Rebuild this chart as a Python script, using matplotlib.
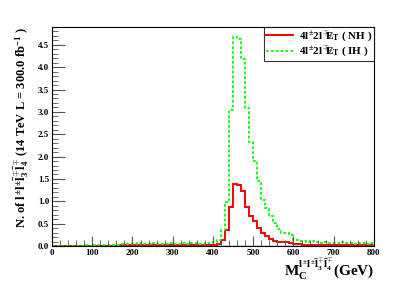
import numpy as np
import matplotlib
matplotlib.use("Agg")
import matplotlib.pyplot as plt
from matplotlib.ticker import MultipleLocator

plt.rcParams["font.family"] = ["Liberation Serif", "DejaVu Serif"]
plt.rcParams["font.weight"] = "bold"
plt.rcParams["mathtext.fontset"] = "custom"
plt.rcParams["mathtext.rm"] = "Liberation Serif:bold"
plt.rcParams["mathtext.it"] = "Liberation Serif:bold"
plt.rcParams["mathtext.bf"] = "Liberation Serif:bold"

# ---- data: 10 GeV bins from 0 to 800 ----
bin_edges = np.arange(0, 810, 10)

nh_counts = [
    0.01, 0.01, 0.01, 0.01, 0.01, 0.01, 0.01, 0.01, 0.01, 0.01,
    0.01, 0.01, 0.01, 0.01, 0.01, 0.01, 0.01, 0.02, 0.02, 0.02,
    0.02, 0.02, 0.02, 0.02, 0.02, 0.02, 0.02, 0.02, 0.02, 0.02,
    0.02, 0.02, 0.02, 0.02, 0.02, 0.02, 0.02, 0.02, 0.02, 0.02,
    0.03, 0.05, 0.13, 0.36, 0.88, 1.39, 1.37, 1.22, 0.88, 0.67,
    0.56, 0.41, 0.29, 0.22, 0.16, 0.12, 0.10, 0.09, 0.08, 0.06,
    0.04, 0.04, 0.03, 0.03, 0.03, 0.03, 0.03, 0.03, 0.03, 0.03,
    0.03, 0.03, 0.02, 0.03, 0.03, 0.02, 0.03, 0.02, 0.02, 0.02,
]

ih_counts = [
    0.01, 0.01, 0.01, 0.01, 0.01, 0.01, 0.01, 0.01, 0.02, 0.01,
    0.02, 0.02, 0.02, 0.02, 0.02, 0.03, 0.03, 0.04, 0.05, 0.04,
    0.05, 0.06, 0.05, 0.04, 0.05, 0.06, 0.05, 0.04, 0.05, 0.06,
    0.05, 0.04, 0.06, 0.05, 0.07, 0.06, 0.05, 0.05, 0.06, 0.07,
    0.08, 0.13, 0.36, 0.99, 3.04, 4.67, 4.62, 4.18, 3.08, 2.33,
    1.90, 1.46, 1.03, 0.84, 0.66, 0.51, 0.37, 0.28, 0.30, 0.25,
    0.14, 0.11, 0.11, 0.10, 0.11, 0.08, 0.07, 0.08, 0.07, 0.06,
    0.07, 0.06, 0.08, 0.06, 0.07, 0.05, 0.07, 0.06, 0.05, 0.07,
]

bkg_counts = [0.0] * 40 + [0.006] * 40

legend_labels = [r"$4l^{\pm}2l^{\mp}/\!\!\!\!E_{T}$ ( NH )",
                 r"$4l^{\pm}2l^{\mp}/\!\!\!\!E_{T}$ ( IH )"]

# ---- plot ----
fig = plt.figure(figsize=(4.15, 2.81), dpi=100)
ax = fig.add_axes([0.1253, 0.1246, 0.7759, 0.7794])

ax.stairs(bkg_counts, bin_edges, color="#4040a0", linewidth=1.0)
ax.stairs(nh_counts, bin_edges, color="#ff0000", linewidth=1.4,
          label=legend_labels[0])
ax.stairs(ih_counts, bin_edges, color="#00ff00", linewidth=1.3,
          linestyle=(0, (1.5, 1.2)), label=legend_labels[1])

ax.set_xlim(0, 800)
ax.set_ylim(0, 4.9)

ax.xaxis.set_major_locator(MultipleLocator(100))
ax.xaxis.set_minor_locator(MultipleLocator(20))
ax.yaxis.set_major_locator(MultipleLocator(0.5))
ax.yaxis.set_minor_locator(MultipleLocator(0.1))
ax.tick_params(axis="both", which="both", direction="in", colors="#555555",
               labelcolor="black", labelsize=6.5, pad=2)
ax.tick_params(axis="x", which="major", length=7)
ax.tick_params(axis="x", which="minor", length=4)
ax.tick_params(axis="y", which="major", length=9)
ax.tick_params(axis="y", which="minor", length=4.5)
for lab in ax.get_xticklabels() + ax.get_yticklabels():
    lab.set_fontweight("bold")
for sp in ax.spines.values():
    sp.set_linewidth(0.8)

ax.set_ylabel(r"N. of $l^{\pm}l^{\pm}\bar{l}_{3}^{\mp}\bar{l}_{4}^{\mp}$ (14 TeV L = 300.0 fb$^{-1}$ )",
              fontsize=9, fontweight="bold", loc="top", labelpad=5)
ax.set_xlabel(r"M$_{C}^{l^{\pm}l^{\pm}\bar{l}_{3}^{\mp}\bar{l}_{4}^{\mp}}$(GeV)",
              fontsize=11, fontweight="bold", loc="right", labelpad=0)

leg = ax.legend(loc="upper right", fontsize=8, frameon=True, fancybox=False,
                edgecolor="black", borderaxespad=0, handlelength=2.4,
                borderpad=0.2, labelspacing=0.1, handletextpad=0.5)
leg.get_frame().set_linewidth(0.8)

fig.savefig("out.png", dpi=100)
plt.close(fig)
